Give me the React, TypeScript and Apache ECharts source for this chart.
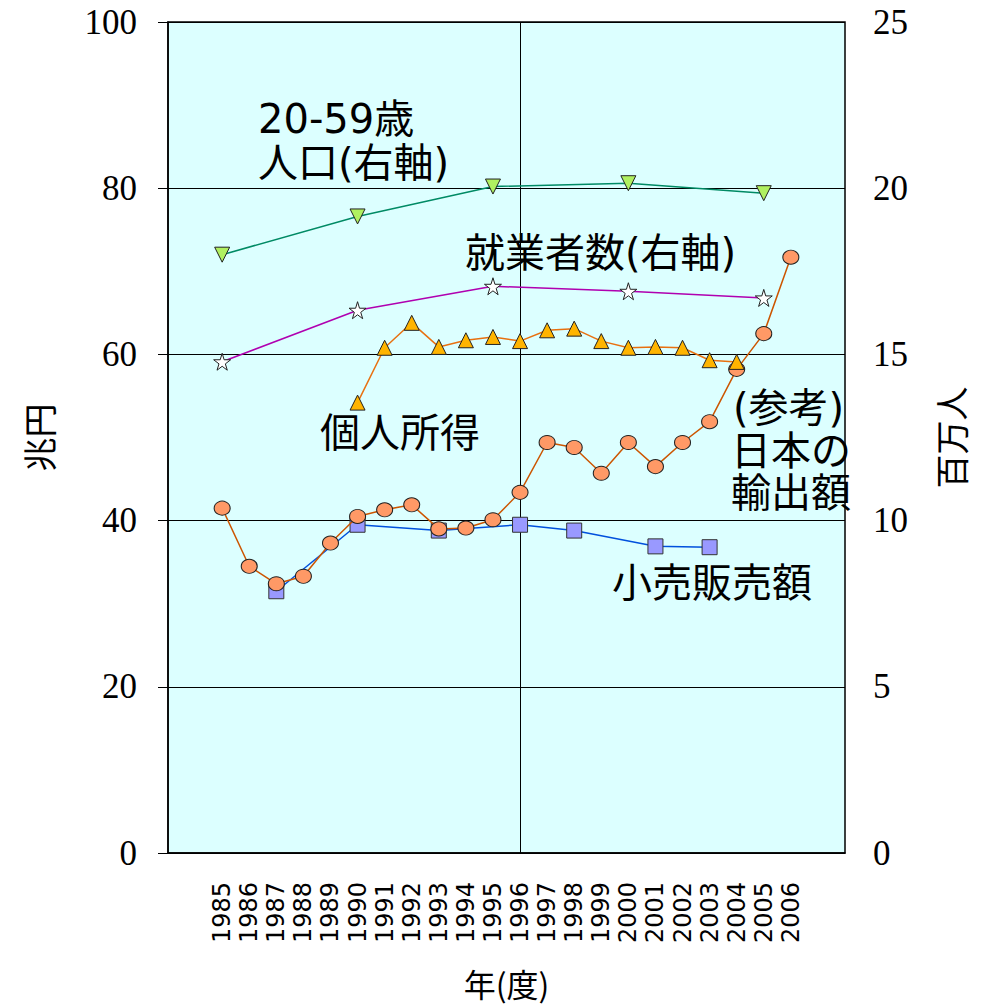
import React, { useEffect, useRef } from "react";
import * as echarts from "echarts";

const categories = [
  "1983", "1984", "1985", "1986", "1987", "1988", "1989", "1990", "1991", "1992", "1993",
  "1994", "1995", "1996", "1997", "1998", "1999", "2000", "2001", "2002", "2003", "2004",
  "2005", "2006", "2007", "2008",
];
const labelYears = categories.filter((c) => +c >= 1985 && +c <= 2006);

// 20-59歳人口 (右軸, 百万人)
const popYears = ["1985", "1990", "1995", "2000", "2005"];
const popValues = [18.0, 19.15, 20.05, 20.15, 19.85];

// 就業者数 (右軸, 百万人)
const empYears = ["1985", "1990", "1995", "2000", "2005"];
const empValues = [14.78, 16.33, 17.05, 16.9, 16.7];

// 個人所得 (兆円)
const incomeYears = ["1990", "1991", "1992", "1993", "1994", "1995", "1996", "1997", "1998", "1999", "2000", "2001", "2002", "2003", "2004"];
const incomeValues = [54.2, 60.8, 63.8, 60.9, 61.7, 62.1, 61.6, 62.9, 63.1, 61.6, 60.8, 60.9, 60.8, 59.3, 59.1];

// (参考)日本の輸出額 (兆円)
const exportYears = ["1985", "1986", "1987", "1988", "1989", "1990", "1991", "1992", "1993", "1994", "1995", "1996", "1997", "1998", "1999", "2000", "2001", "2002", "2003", "2004", "2005", "2006"];
const exportValues = [41.5, 34.5, 32.4, 33.3, 37.3, 40.5, 41.3, 41.9, 39.0, 39.1, 40.1, 43.4, 49.4, 48.8, 45.7, 49.4, 46.5, 49.4, 51.9, 58.2, 62.5, 71.7];

// 小売販売額 (兆円)
const retailYears = ["1987", "1990", "1993", "1996", "1998", "2001", "2003"];
const retailValues = [31.5, 39.5, 38.8, 39.5, 38.8, 36.9, 36.8];

const leftTicks = { min: 0, max: 100, interval: 20 };
const rightTicks = { min: 0, max: 25, interval: 5 };

const STAR = "path://M50,0 L61,35 L98,35 L68,57 L79,91 L50,70 L21,91 L32,57 L2,35 L39,35 Z";

const pairs = (ys: string[], vs: number[]) => ys.map((y, i) => [y, vs[i]]);

export default function App() {
  const ref = useRef<HTMLDivElement>(null);
  useEffect(() => {
    if (!ref.current) return;
    const chart = echarts.init(ref.current, null, { renderer: "svg" });
    const annFont = {
      fontFamily: "'DejaVu Sans', 'Noto Sans CJK JP'",
      fontSize: 40,
      lineHeight: 40,
      fill: "#000",
    };
    chart.setOption({
      animation: false,
      grid: {
        left: 168, right: 148, top: 22, bottom: 152,
        show: true, backgroundColor: "#dcffff", borderColor: "#000", borderWidth: 1.5,
      },
      xAxis: {
        type: "category",
        data: categories,
        boundaryGap: false,
        axisLine: { show: true, lineStyle: { color: "#000", width: 1.5 } },
        axisTick: { show: false },
        splitLine: { show: false },
        axisLabel: {
          rotate: 90,
          interval: 0,
          margin: 29,
          fontFamily: "DejaVu Sans",
          fontSize: 24,
          color: "#000",
          formatter: (v: string) => (labelYears.includes(v) ? v : ""),
        },
        name: "年(度)",
        nameLocation: "middle",
        nameGap: 114,
        nameTextStyle: { fontFamily: "Noto Sans CJK JP", fontSize: 32, color: "#000" },
      },
      yAxis: [
        {
          type: "value",
          ...leftTicks,
          position: "left",
          axisLine: { show: true, lineStyle: { color: "#000", width: 1.5 } },
          axisTick: { show: true, length: 10, lineStyle: { color: "#000" } },
          splitLine: { show: true, lineStyle: { color: "#000", width: 1 } },
          axisLabel: { margin: 31, fontFamily: "Liberation Serif", fontSize: 35, color: "#000" },
          name: "兆円",
          nameLocation: "middle",
          nameRotate: 90,
          nameGap: 113,
          nameTextStyle: { fontFamily: "Noto Sans CJK JP", fontSize: 34, color: "#000" },
        },
        {
          type: "value",
          ...rightTicks,
          position: "right",
          axisLine: { show: false },
          axisTick: { show: false },
          splitLine: { show: false },
          axisLabel: { margin: 28, fontFamily: "Liberation Serif", fontSize: 35, color: "#000" },
          name: "百万人",
          nameLocation: "middle",
          nameRotate: 90,
          nameGap: 88,
          nameTextStyle: { fontFamily: "Noto Sans CJK JP", fontSize: 34, color: "#000" },
        },
      ],
      series: [
        {
          name: "20-59歳人口(右軸)",
          type: "line",
          yAxisIndex: 1,
          data: pairs(popYears, popValues),
          symbol: "triangle",
          symbolRotate: 180,
          symbolSize: 15,
          lineStyle: { color: "#008a64", width: 1.5 },
          itemStyle: { color: "#b0f060", borderColor: "#222", borderWidth: 1 },
        },
        {
          name: "就業者数(右軸)",
          type: "line",
          yAxisIndex: 1,
          data: pairs(empYears, empValues),
          symbol: STAR,
          symbolSize: 17,
          lineStyle: { color: "#b000b0", width: 1.5 },
          itemStyle: { color: "#ffffff", borderColor: "#222", borderWidth: 1 },
        },
        {
          name: "個人所得",
          type: "line",
          yAxisIndex: 0,
          data: pairs(incomeYears, incomeValues),
          symbol: "triangle",
          symbolSize: 15,
          lineStyle: { color: "#e87010", width: 1.5 },
          itemStyle: { color: "#ffb400", borderColor: "#222", borderWidth: 1 },
          z: 4,
        },
        {
          name: "小売販売額",
          type: "line",
          yAxisIndex: 0,
          data: pairs(retailYears, retailValues),
          symbol: "rect",
          symbolSize: 15,
          lineStyle: { color: "#0050dd", width: 1.5 },
          itemStyle: { color: "#9999ff", borderColor: "#333", borderWidth: 1 },
          z: 2,
        },
        {
          name: "日本の輸出額",
          type: "line",
          yAxisIndex: 0,
          data: pairs(exportYears, exportValues),
          symbol: "circle",
          symbolSize: [16, 14],
          lineStyle: { color: "#cc5500", width: 1.5 },
          itemStyle: { color: "#ff9966", borderColor: "#222", borderWidth: 1 },
          z: 3,
          markLine: {
            silent: true,
            symbol: "none",
            label: { show: false },
            lineStyle: { color: "#000", width: 1, type: "solid" },
            data: [{ xAxis: "1996" }],
            z: 1,
          },
        },
      ],
      graphic: [
        { type: "text", left: 258, top: 99, style: { ...annFont, text: "20-59歳" } },
        { type: "text", left: 258, top: 143, style: { ...annFont, text: "人口(右軸)" } },
        { type: "text", left: 465, top: 233, style: { ...annFont, text: "就業者数(右軸)" } },
        { type: "text", left: 320, top: 413, style: { ...annFont, text: "個人所得" } },
        { type: "text", left: 733, top: 388, style: { ...annFont, text: "(参考)" } },
        { type: "text", left: 731, top: 431, style: { ...annFont, text: "日本の" } },
        { type: "text", left: 731, top: 473, style: { ...annFont, text: "輸出額" } },
        { type: "text", left: 612, top: 563, style: { ...annFont, text: "小売販売額" } },
      ],
    });
    return () => chart.dispose();
  }, []);
  return (
    <div
      ref={ref}
      style={{ position: "fixed", left: 0, top: 0, width: 993, height: 1005, background: "#fff" }}
    />
  );
}
